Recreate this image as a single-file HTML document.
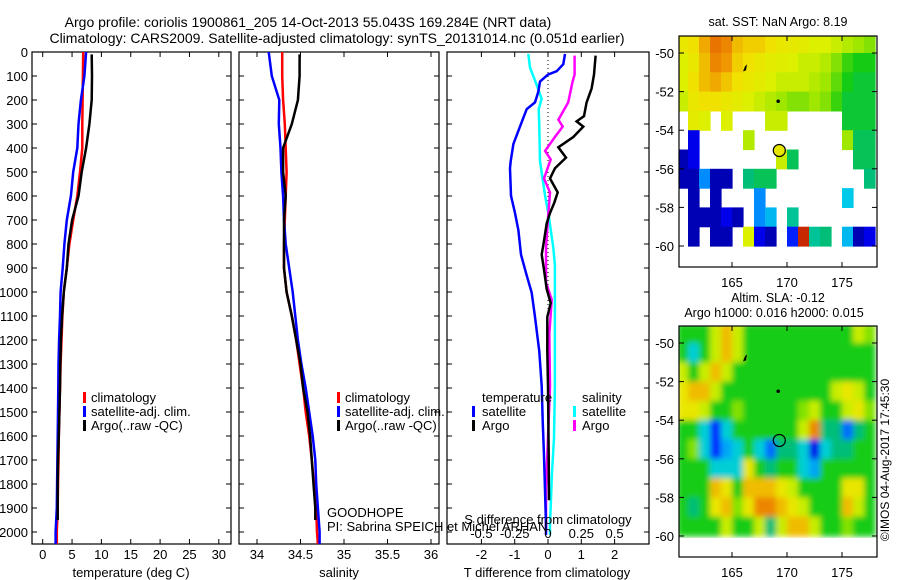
<!DOCTYPE html>
<html><head><meta charset="utf-8"><style>
html,body{margin:0;padding:0;background:#fff;}
svg{display:block;font-family:"Liberation Sans",sans-serif;}
text{font-size:13px;fill:#000;}
</style></head><body>
<svg id="fig" width="900" height="580" viewBox="0 0 900 580" xmlns="http://www.w3.org/2000/svg">
<defs>
<clipPath id="cm1"><rect x="679" y="36" width="198" height="231"/></clipPath>
<clipPath id="cm2"><rect x="679" y="326" width="198" height="231"/></clipPath>
<filter id="blur" x="-5%" y="-5%" width="110%" height="110%"><feGaussianBlur stdDeviation="2.8"/></filter>
</defs>
<text x="308" y="27" text-anchor="middle" style="font-size:14px">Argo profile: coriolis 1900861_205 14-Oct-2013 55.043S 169.284E (NRT data)</text>
<text x="337" y="43" text-anchor="middle" style="font-size:14px">Climatology: CARS2009. Satellite-adjusted climatology: synTS_20131014.nc (0.051d earlier)</text>
<g id="layer"></g>
</svg>
<script>
// ---------- profile data ----------
const climDepth = [0,100,200,300,400,500,600,700,800,900,1000,1100,1200,1300,1400,1500,1600,1700,1800,1900,2000,2050];
const argoDepth = [10,100,200,300,400,500,600,700,800,900,1000,1100,1200,1300,1400,1500,1600,1700,1800,1900,1950];
const tClim = [6.9,6.85,6.8,6.75,6.75,6.35,5.9,5.2,4.55,4.1,3.6,3.35,3.2,3.05,2.95,2.85,2.75,2.7,2.6,2.55,2.4,2.4];
const tSat  = [7.4,7.1,6.5,6.1,5.9,5.2,4.8,4.1,3.7,3.4,3.05,2.95,2.8,2.7,2.65,2.6,2.55,2.5,2.45,2.4,2.2,2.2];
const tArgo = [8.35,8.4,8.35,7.95,7.4,6.65,6.1,5.0,4.4,4.1,3.6,3.3,3.1,3.0,2.95,2.85,2.75,2.6,2.55,2.55,2.55];
const sClim = [34.29,34.29,34.30,34.32,34.33,34.34,34.33,34.32,34.31,34.31,34.34,34.40,34.45,34.49,34.53,34.56,34.60,34.63,34.655,34.68,34.69,34.70];
const sSat  = [34.134,34.17,34.256,34.25,34.27,34.28,34.30,34.31,34.33,34.37,34.41,34.44,34.47,34.51,34.56,34.60,34.64,34.67,34.68,34.70,34.72,34.72];
const sArgo = [34.49,34.49,34.47,34.40,34.30,34.30,34.33,34.31,34.31,34.31,34.34,34.40,34.45,34.50,34.53,34.58,34.61,34.63,34.65,34.67,34.67];
const dTSatDepth = [8,51,80,94,123,166,210,238,311,383,455,484,599,671,743,844,931,1003,1104,1248,1392,1537,1681,1825,1969,2012];
const dTSat = [0.51,0.46,0.26,0,-0.24,-0.29,-0.39,-0.64,-0.84,-1.04,-1.12,-1.14,-1.11,-0.99,-0.89,-0.81,-0.64,-0.49,-0.39,-0.26,-0.19,-0.16,-0.12,-0.09,-0.06,-0.06];
const dTArgoDepth = [15,94,152,210,267,289,311,354,397,440,484,527,585,628,671,714,787,844,916,988,1046,1104,1248,1392,1681,1868];
const dTArgo = [1.43,1.38,1.31,1.16,1.08,0.86,1.06,0.76,0.31,0.54,0.21,0.06,0.29,0.19,0.06,-0.04,-0.12,-0.19,-0.11,-0.04,0.08,-0.02,-0.02,0,0.02,0.03];
const dSSatDepth = [8,65,137,195,238,311,455,599,671,815,888,1104,1392,1609,1753,1969,2012];
const dSSat = [-0.148,-0.135,-0.085,-0.048,-0.07,-0.065,-0.06,-0.022,0.002,0.04,0.052,0.052,0.052,0.045,0.03,0.015,0.015];
const dSArgoDepth = [15,94,123,210,282,311,354,412,448,527,585,671,815,960,1032,1176,1392,1681,1825,1998];
const dSArgo = [0.2,0.2,0.185,0.152,0.078,0.11,0.052,-0.022,0.02,-0.03,0.015,0.003,-0.015,-0.015,0.028,0.01,0.015,-0.005,-0.015,-0.015];
const depthTicks = [0,100,200,300,400,500,600,700,800,900,1000,1100,1200,1300,1400,1500,1600,1700,1800,1900,2000];
const tempTicks = [0,5,10,15,20,25,30];
const salTicks = [34,34.5,35,35.5,36];
const salTickLabels = ["34","34.5","35","35.5","36"];
const dTTicks = [-2,-1,0,1,2];
const dSTicks = [-0.5,-0.25,0,0.25,0.5];
const dSTickLabels = ["-0.5","-0.25","0","0.25","0.5"];
// ---------- map data ----------
const mapLon0 = 160;
const mapLat0 = -49;
const sstGrid = [
[8.4,8.6,9.2,9.8,9.6,9.0,8.8,8.8,8.6,8.4,8.3,8.2,8.0,8.0,7.8,7.6,7.4,7.2],
[8.0,8.4,9.0,9.6,9.4,8.8,8.6,8.4,8.2,8.1,8.0,7.8,7.8,7.6,7.2,6.8,6.6,6.6],
[8.0,8.6,9.0,9.2,8.9,8.6,8.4,8.2,8.0,7.8,7.8,7.8,7.6,7.4,7.0,6.6,6.4,6.4],
[7.8,8.4,8.6,8.6,8.4,8.2,8.0,7.8,7.6,7.4,7.2,7.2,7.4,7.2,6.8,6.4,6.4,6.4],
[null,8.2,8.0,null,8.0,null,null,null,7.8,7.8,null,null,null,null,null,6.4,6.4,6.4],
[null,3.0,null,null,null,null,7.6,null,null,null,null,null,null,null,null,7.4,6.2,6.2],
[2.5,3.0,null,null,null,null,null,null,null,7.8,6.2,null,null,null,null,null,6.2,6.2],
[2.5,2.5,4.5,2.5,2.5,null,6.0,6.2,6.2,null,null,null,null,null,null,null,null,6.0],
[null,2.5,null,2.5,null,null,null,4.5,null,null,null,null,null,null,null,5.2,null,null],
[null,2.5,2.5,2.5,3.0,2.5,null,4.5,5.0,null,5.8,null,null,null,null,null,null,null],
[null,2.5,null,2.5,2.5,null,8.0,3.0,2.5,null,3.5,11,5.8,6.0,null,5.0,2.5,3.0],
[null,null,null,null,null,null,null,null,null,null,null,null,null,null,null,null,null,null]
];
const slaGrid = [
[0,0,0,1,2,1,0,0,0,0,0,0,0,0,0,0,1,0.5],
[0,-1,0,1,2,1,0,0,0,0,0,0,0,0,0,0,0,0],
[1,0,1,2,1,0,0,0,0,0,0,0,0,0,0,0,0,0],
[1.5,2,2,1,0,0,0,0,0,0,0,0,0,0,1,1.5,1,0],
[1.5,1.5,1,0,0,0.5,0,0,0,0,0,0.5,1,0,0,1,1.5,0.5],
[0,0,-1,-2.5,-1,0,0,0,0,0,0,1,2.5,-0.5,-0.5,-2,-0.5,0],
[0,0.5,-1,-2.5,-1.5,-1,0,-1,-2,-0.5,-0.5,-1,-3,-1,-0.5,-0.5,0,0],
[0,0,0,-1,-1,-1,1.5,0,-0.5,0,0,-1,-1.5,0,0,0,0,0],
[0,0,0,2,1.5,0,2,2,2,1.5,1,0,0,0,0,1.5,1.5,0],
[0,-0.5,0,1.5,2,0.5,1.5,2.5,2.5,2,1.5,1,0,0,0,2,1,0],
[0,0,0,0,1,0,0,1,-0.5,1,2,2,1,0,0,0.5,0,0]
];
const latTicks = [-50,-52,-54,-56,-58,-60];
const lonTicks = [165,170,175];
const argoLon = 169.3, argoLat = -55.05;

// ---------- helpers ----------
const NS = "http://www.w3.org/2000/svg";
const layer = document.getElementById("layer");
function mk(tag, attrs, parent){ const e=document.createElementNS(NS,tag); for(const k in attrs) e.setAttribute(k,attrs[k]); (parent||layer).appendChild(e); return e; }
const yD = d => 52 + d*0.24;
const xT = t => 42.7 + t*5.87;
const xS = s => 257 + (s-34)*87;
const xDT = v => 548 + v*33.3;
const xDS = v => 548 + v*4*33.3;
const mx = lon => 732 + (lon-165)*11;
const my = (lat,off) => 53 + off + (-50-lat)*19.3;

const cmStops = [[0,[0,0,128]],[0.12,[0,0,255]],[0.25,[0,140,255]],[0.33,[0,210,230]],[0.4,[0,190,120]],[0.46,[20,204,20]],[0.53,[150,230,0]],[0.6,[220,240,0]],[0.66,[240,225,0]],[0.74,[240,150,0]],[0.85,[220,60,0]],[1,[160,0,0]]];
function cmap(x){ x=Math.max(0,Math.min(1,x));
  for(let i=1;i<cmStops.length;i++){ if(x<=cmStops[i][0]){ const a=cmStops[i-1],b=cmStops[i]; const f=(x-a[0])/(b[0]-a[0]);
    const c=a[1].map((v,k)=>Math.round(v+(b[1][k]-v)*f)); return "rgb("+c.join(",")+")"; } }
  return "rgb(160,0,0)"; }

function line(xs, ds, fx, color, name){
  const pts = xs.map((v,i)=>fx(v).toFixed(1)+","+yD(ds[i]).toFixed(1)).join(" ");
  const p = mk("polyline",{points:pts,fill:"none",stroke:color,"stroke-width":2.5});
  
  
  return p;
}
function frame(x0,x1,name){
  const r = mk("rect",{x:x0,y:52,width:x1-x0,height:492,fill:"none",stroke:"#000","stroke-width":1.2});
  
  
  depthTicks.forEach(d=>{
    mk("line",{x1:x0,x2:x0+5,y1:yD(d),y2:yD(d),stroke:"#000"});
    mk("line",{x1:x1-5,x2:x1,y1:yD(d),y2:yD(d),stroke:"#000"});
  });
}
function xticks(vals, fx, labels, y, name){
  vals.forEach((v,i)=>{
    mk("line",{x1:fx(v),x2:fx(v),y1:544,y2:539,stroke:"#000"});
    mk("line",{x1:fx(v),x2:fx(v),y1:52,y2:57,stroke:"#000"});
    const t = mk("text",{x:fx(v),y:y,"text-anchor":"middle"}); t.textContent = labels[i];
    
    
  });
}
function txt(x,y,s,name,anchor,size){
  const t = mk("text",{x:x,y:y,"text-anchor":anchor||"start"}); t.textContent=s;
  if(size) t.style.fontSize=size+"px";
  
  
  return t;
}
function legMark(x,y,color){ mk("rect",{x:x,y:y-10,width:3,height:11,fill:color}); }

// ---------- panel 1 temperature ----------
frame(32,231,"temperature-panel-frame");
depthTicks.forEach(d=>{ txt(28,yD(d)+5,String(d),"depth-tick-label","end"); });
xticks(tempTicks, xT, tempTicks.map(String), 559, "temperature-tick-label");
txt(131,577,"temperature (deg C)","temperature-axis-title","middle");
line(tClim, climDepth, xT, "#ff0000", "temperature-climatology-line");
line(tSat, climDepth, xT, "#0000ff", "temperature-satellite-line");
line(tArgo, argoDepth, xT, "#000000", "temperature-argo-line");
legMark(83,402,"#f00"); txt(91,402,"climatology","legend-climatology");
legMark(83,416,"#00f"); txt(91,416,"satellite-adj. clim.","legend-satellite-adj");
legMark(83,430,"#000"); txt(91,430,"Argo(..raw -QC)","legend-argo");

// ---------- panel 2 salinity ----------
frame(239,439,"salinity-panel-frame");
xticks(salTicks, xS, salTickLabels, 559, "salinity-tick-label");
txt(339,577,"salinity","salinity-axis-title","middle");
line(sClim, climDepth, xS, "#ff0000", "salinity-climatology-line");
line(sSat, climDepth, xS, "#0000ff", "salinity-satellite-line");
line(sArgo, argoDepth, xS, "#000000", "salinity-argo-line");
legMark(337,402,"#f00"); txt(345,402,"climatology","legend-climatology");
legMark(337,416,"#00f"); txt(345,416,"satellite-adj. clim.","legend-satellite-adj");
legMark(337,430,"#000"); txt(345,430,"Argo(..raw -QC)","legend-argo");

// ---------- panel 3 differences ----------
frame(447,649,"difference-panel-frame");
mk("line",{x1:548,x2:548,y1:52,y2:400,stroke:"#000","stroke-dasharray":"1,3"});
xticks(dTTicks, xDT, dTTicks.map(String), 559, "t-difference-tick-label");
txt(547,577,"T difference from climatology","t-difference-axis-title","middle");
line(dSSat, dSSatDepth, xDS, "#00ffff", "salinity-diff-satellite-line");
line(dSArgo, dSArgoDepth, xDS, "#ff00ff", "salinity-diff-argo-line");
line(dTSat, dTSatDepth, xDT, "#0000ff", "temperature-diff-satellite-line");
line(dTArgo, dTArgoDepth, xDT, "#000000", "temperature-diff-argo-line");
txt(482,402,"temperature","legend-temperature-heading");
legMark(472,416,"#00f"); txt(482,416,"satellite","legend-temp-satellite");
legMark(472,430,"#000"); txt(482,430,"Argo","legend-temp-argo");
txt(582,402,"salinity","legend-salinity-heading");
legMark(573,416,"#0ff"); txt(582,416,"satellite","legend-sal-satellite");
legMark(573,430,"#f0f"); txt(582,430,"Argo","legend-sal-argo");
txt(327,517,"GOODHOPE","project-label");
txt(327,531,"PI: Sabrina SPEICH et Michel ARHAN","pi-label");
txt(548,524,"S difference from climatology","s-difference-axis-title","middle");
dSTicks.forEach((v,i)=>{ txt(xDS(v),538,dSTickLabels[i],"s-difference-tick-label","middle"); });

// ---------- maps ----------
function drawMap(grid, off, colorFn, clip, name, filled, blur){
  const g = mk("g",{"clip-path":"url(#"+clip+")"});
  
  
  const cg = mk("g", blur ? {filter:"url(#blur)"} : {}, g);
  grid.forEach((row,r)=>row.forEach((v,c)=>{
    if(v===null) return;
    const x0 = mx(mapLon0+c), y0 = my(mapLat0-r,off);
    const cell = mk("rect",{x:x0.toFixed(1),y:y0.toFixed(1),width:11.6,height:19.9,fill:colorFn(v)},cg);
    
    
  }));
  if(blur){ mk("rect",{x:679,y:my(-60.1,off),width:198,height:40,fill:"#fff"},g); }
  mk("path",{d:`M${mx(166.0)},${my(-50.95,off)} l2,-5 l2,-2 l-1,6 z`,fill:"#000"},g);
  mk("circle",{cx:mx(169.2),cy:my(-52.5,off),r:1.8,fill:"#000"},g);
  const y0 = 36+off;
  const fr = mk("rect",{x:679,y:y0,width:198,height:231,fill:"none",stroke:"#000","stroke-width":1.2});
  
  
  latTicks.forEach(l=>{
    mk("line",{x1:679,x2:684,y1:my(l,off),y2:my(l,off),stroke:"#000"});
    mk("line",{x1:872,x2:877,y1:my(l,off),y2:my(l,off),stroke:"#000"});
    txt(674,my(l,off)+5,String(l),"latitude-tick-label","end");
  });
  lonTicks.forEach(l=>{
    mk("line",{x1:mx(l),x2:mx(l),y1:y0+231,y2:y0+226,stroke:"#000"});
    mk("line",{x1:mx(l),x2:mx(l),y1:y0,y2:y0+5,stroke:"#000"});
    txt(mx(l),y0+251,String(l),"longitude-tick-label","middle");
  });
  const c = mk("circle",{cx:mx(argoLon),cy:my(argoLat,off),r:6,fill:filled?"#e6e600":"none",stroke:"#000","stroke-width":1.2});
  
  
}
drawMap(sstGrid, 0, v=>cmap((v-2)/10), "cm1", "sst-map", true, false);
drawMap(slaGrid, 290, v=>cmap(0.46+v*0.12), "cm2", "sla-map", false, true);
txt(778,26,"sat. SST: NaN Argo: 8.19","sst-map-title","middle",12.5);
txt(778,302,"Altim. SLA: -0.12","sla-map-title","middle",12.5);
txt(774,317,"Argo h1000: 0.016 h2000: 0.015","sla-map-subtitle","middle",12.5);
const cp = txt(0,0,"©IMOS 04-Aug-2017 17:45:30","copyright-label","middle",12);
cp.setAttribute("transform","translate(889,460) rotate(-90)");
</script>
</body></html>
